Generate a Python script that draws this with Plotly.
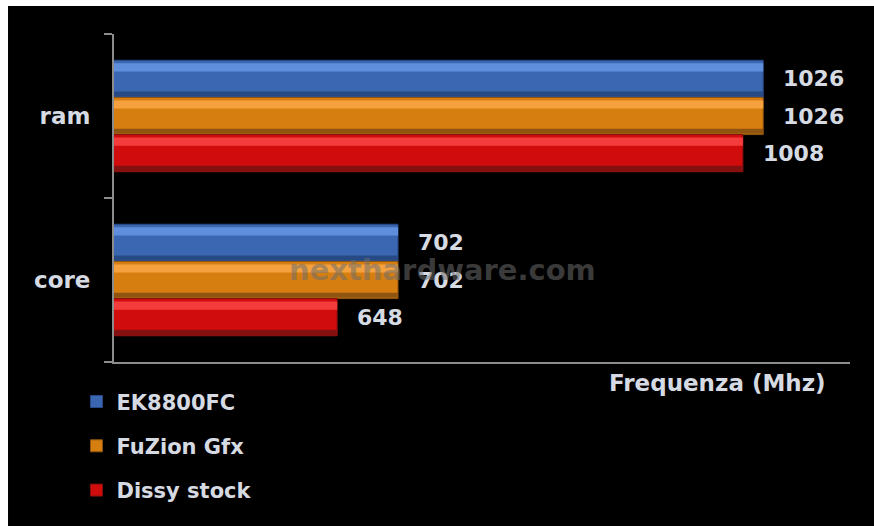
import plotly.graph_objects as go

categories = ["core", "ram"]
series_names = ["EK8800FC", "FuZion Gfx", "Dissy stock"]
ek8800fc = [702, 1026]
fuzion_gfx = [702, 1026]
dissy_stock = [648, 1008]
values = [ek8800fc, fuzion_gfx, dissy_stock]

axis_title = "Frequenza (Mhz)"
watermark = "nexthardware.com"

main_colors = ["#3a66b2", "#d67e10", "#d00c0c"]
light_colors = ["#5f8fdc", "#f5a23e", "#f43c3c"]
dark_colors = ["#284a84", "#8e5410", "#841010"]

FONT = "DejaVu Sans"
TXT = "#d6dae2"

group_frac = 0.68
bw = group_frac / 3.0

fig = go.Figure()
for i, (name, vals) in enumerate(zip(series_names, values)):
    off = group_frac / 2 - (i + 1) * bw  # top bar first
    fig.add_trace(go.Bar(
        name=name, y=categories, x=vals, orientation="h",
        width=bw, offset=off,
        marker=dict(color=main_colors[i], line=dict(color=dark_colors[i], width=1)),
        legendgroup=name,
    ))
    fig.add_trace(go.Bar(
        y=categories, x=vals, orientation="h",
        width=bw * 0.22, offset=off + bw * 0.70,
        marker=dict(color=light_colors[i], line=dict(width=0)),
        showlegend=False, hoverinfo="skip", legendgroup=name,
    ))
    fig.add_trace(go.Bar(
        y=categories, x=vals, orientation="h",
        width=bw * 0.14, offset=off + bw * 0.02,
        marker=dict(color=dark_colors[i], line=dict(width=0)),
        showlegend=False, hoverinfo="skip", legendgroup=name,
    ))
    for j, v in enumerate(vals):
        fig.add_annotation(
            x=v, y=j + off + bw / 2, xref="x", yref="y",
            text=str(v), showarrow=False, xanchor="left", yanchor="middle",
            xshift=18, font=dict(family=FONT, size=22, color=TXT, weight="bold"),
        )

# black panel (white strip on left and top)
fig.add_shape(type="rect", xref="paper", yref="paper",
              x0=-0.144, x1=1.05, y0=-0.6, y1=1.0854,
              fillcolor="black", line=dict(width=0), layer="below")

fig.add_annotation(x=0.970, y=-0.064, xref="paper", yref="paper",
                   text=axis_title, showarrow=False, xanchor="right", yanchor="middle",
                   font=dict(family=FONT, size=23, color=TXT, weight="bold"))
fig.add_annotation(x=0.447, y=0.28, xref="paper", yref="paper",
                   text=watermark, showarrow=False, xanchor="center", yanchor="middle",
                   font=dict(family=FONT, size=29, color="rgba(110,110,110,0.55)", weight="bold"))

fig.update_layout(
    width=874, height=526,
    margin=dict(l=114, r=24, t=34, b=164, autoexpand=False),
    paper_bgcolor="white", plot_bgcolor="black",
    barmode="overlay",
    showlegend=True,
    legend=dict(x=-0.051, y=-0.059, xanchor="left", yanchor="top",
                bgcolor="rgba(0,0,0,0)", traceorder="grouped", tracegroupgap=14,
                font=dict(family=FONT, size=21, color=TXT, weight="bold")),
    xaxis=dict(range=[450, 1103], showgrid=False, zeroline=False, showticklabels=False,
               ticks="", showline=True, linecolor="#8c8c8c", linewidth=2),
    yaxis=dict(type="category", categoryorder="array", categoryarray=categories,
               range=[-0.5, 1.5], tickson="boundaries",
               showgrid=False, zeroline=False, showline=True, linecolor="#8c8c8c", linewidth=2,
               ticks="outside", ticklen=8, tickcolor="#8c8c8c", tickwidth=2,
               ticklabelstandoff=17,
               tickfont=dict(family=FONT, size=23, color=TXT, weight="bold")),
    font=dict(family=FONT),
)

fig.write_html("out.html")
